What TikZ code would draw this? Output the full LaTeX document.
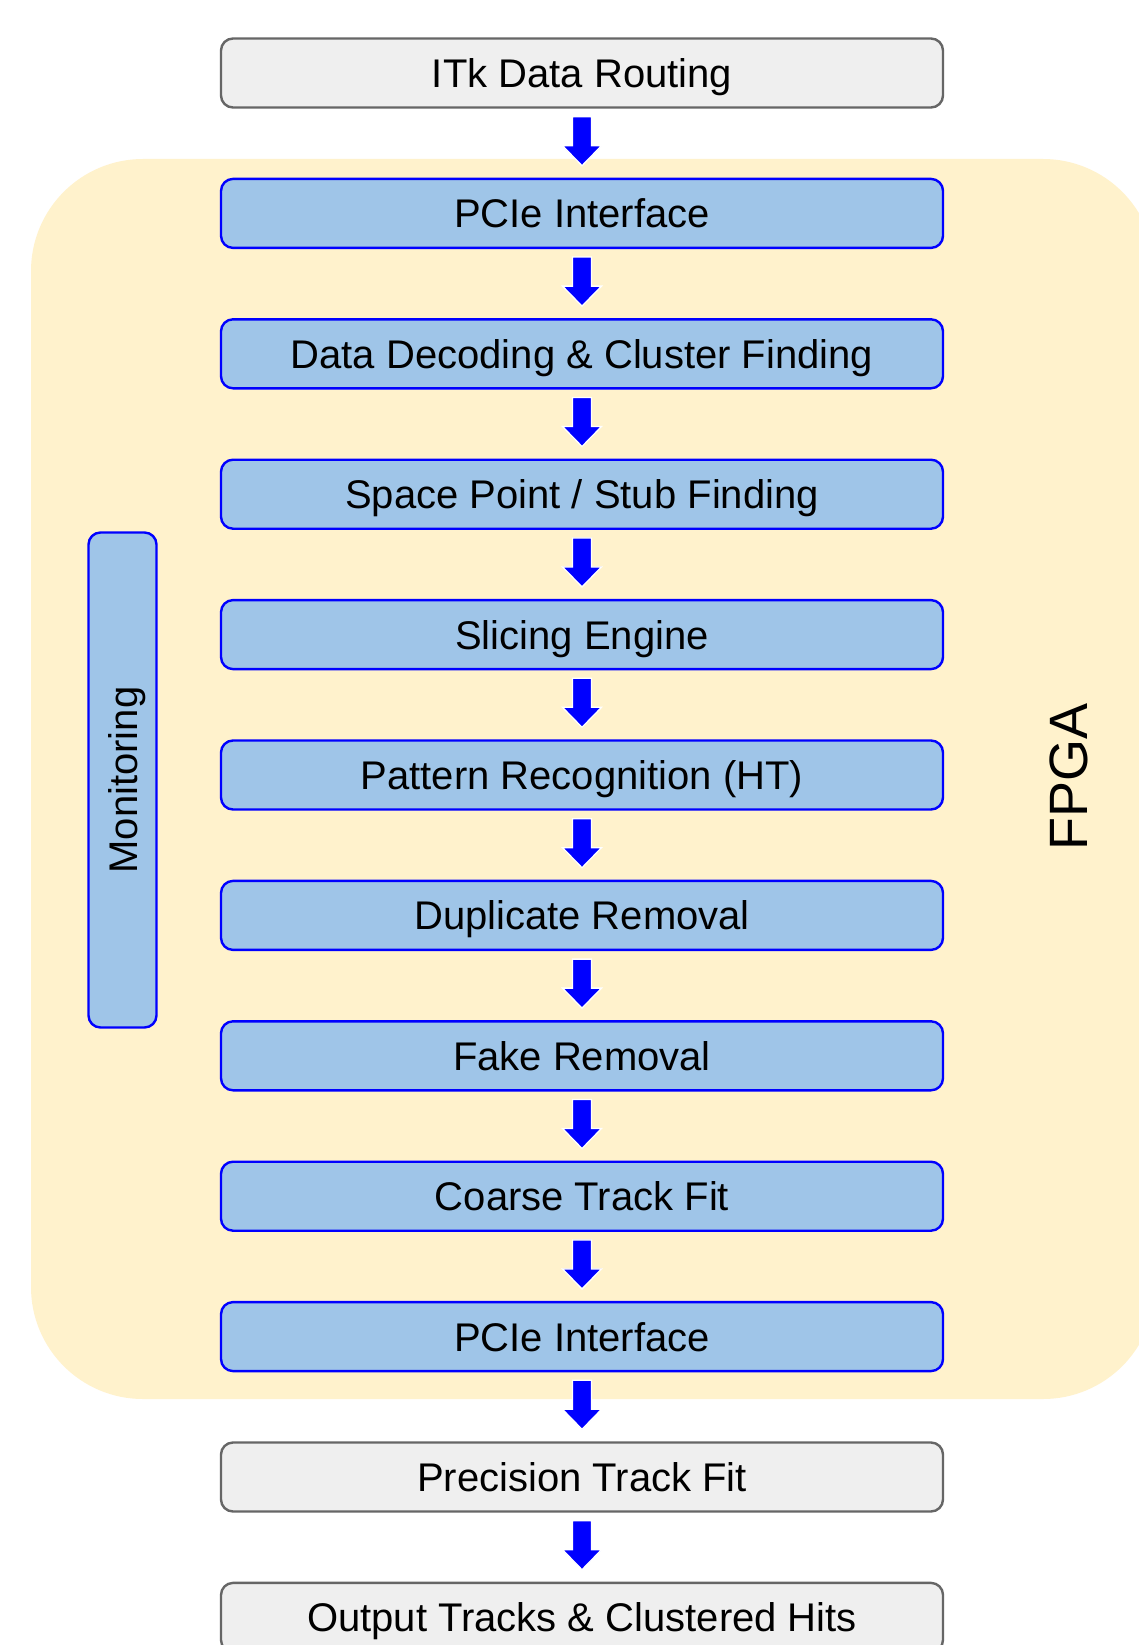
\documentclass[tikz,border=0pt]{standalone}
\usepackage{fontspec}
\setmainfont{Liberation Sans}
\usetikzlibrary{calc}

\definecolor{stageblue}{HTML}{9FC5E8}
\definecolor{stageedge}{HTML}{0000FF}
\definecolor{extfill}{HTML}{EFEFEF}
\definecolor{extedge}{HTML}{666666}
\definecolor{fpgafill}{HTML}{FFF2CC}
\definecolor{arrowblue}{HTML}{0000FF}

\tikzset{
  stagebase/.style={rectangle, rounded corners=12pt, minimum width=722pt,
    minimum height=69pt, inner sep=0pt, line width=2.4pt,
    font=\fontsize{40}{48}\selectfont, text height=29pt, text depth=0pt},
  stage/.style={stagebase, fill=stageblue, draw=stageedge},
  external/.style={stagebase, fill=extfill, draw=extedge},
  % block arrow from the bottom of one stage to the top of the next
  flowarrow/.style={fill=arrowblue, draw=white, line width=1.3pt,
    line join=miter,
    to path={let \p1=(\tikztostart.south), \p2=(\tikztotarget.north) in
      (\x1-9.5pt,\y1-8pt) -- (\x1+9.5pt,\y1-8pt) -- (\x1+9.5pt,\y2+32pt)
      -- (\x1+19.5pt,\y2+32pt) -- (\x1,\y2+12pt) -- (\x1-19.5pt,\y2+32pt)
      -- (\x1-9.5pt,\y2+32pt) -- cycle}},
  sidelabel/.style={font=\fontsize{54}{60}\selectfont, rotate=90, inner sep=0pt}
}

\begin{document}
\begin{tikzpicture}[x=1pt, y=-1pt]
  \clip (0,0) rectangle (1139,1645);
  \fill[white] (0,0) rectangle (1139,1645);

  % FPGA area
  \fill[fpgafill, rounded corners=112pt] (31,159) rectangle (1155,1399);
  \node[sidelabel, anchor=base] (fpga) at (1087,777) {FPGA};

  % monitoring block
  \node[stage, rotate=90, minimum width=495pt, minimum height=68pt,
        rounded corners=12pt] (mon) at (122.5,780) {Monitoring};

  % processing chain
  \node[external] (b0)  at (582,73)     {ITk Data Routing};
  \node[stage]    (b1)  at (582,213.4)  {PCIe Interface};
  \node[stage]    (b2)  at (582,353.8)  {Data Decoding \& Cluster Finding};
  \node[stage]    (b3)  at (582,494.2)  {Space Point / Stub Finding};
  \node[stage]    (b4)  at (582,634.6)  {Slicing Engine};
  \node[stage]    (b5)  at (582,775)    {Pattern Recognition (HT)};
  \node[stage]    (b6)  at (582,915.4)  {Duplicate Removal};
  \node[stage]    (b7)  at (582,1055.8) {Fake Removal};
  \node[stage]    (b8)  at (582,1196.2) {Coarse Track Fit};
  \node[stage]    (b9)  at (582,1336.6) {PCIe Interface};
  \node[external] (b10) at (582,1477)   {Precision Track Fit};
  \node[external] (b11) at (582,1617.4) {Output Tracks \& Clustered Hits};

  \foreach \a/\b in {b0/b1,b1/b2,b2/b3,b3/b4,b4/b5,b5/b6,b6/b7,b7/b8,b8/b9,b9/b10,b10/b11}
    \path[flowarrow] (\a) to (\b);
\end{tikzpicture}
\end{document}
